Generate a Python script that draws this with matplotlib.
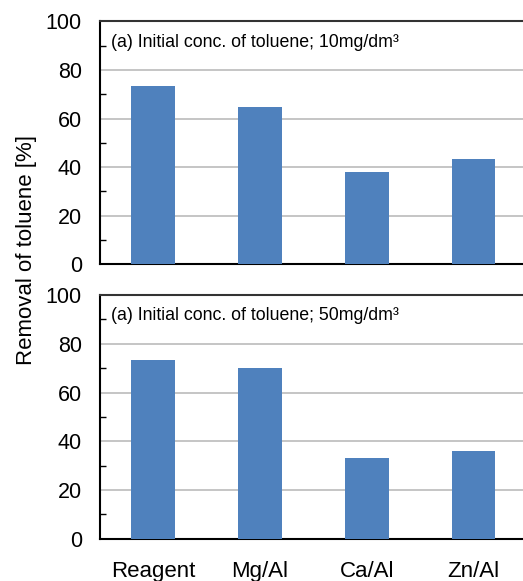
import matplotlib
matplotlib.use('Agg')
import matplotlib.pyplot as plt
from matplotlib.ticker import MultipleLocator

plt.rcParams['font.family'] = ['Liberation Sans', 'DejaVu Sans']

# Adsorbents and toluene removal (%) at two initial concentrations
samples = ['Reagent', 'Mg/Al', 'Ca/Al', 'Zn/Al']
removal_10 = [73.3, 64.6, 37.9, 43.2]
removal_50 = [73.3, 70.0, 33.1, 36.0]
panel_labels = ['(a) Initial conc. of toluene; 10mg/dm\u00b3',
                '(a) Initial conc. of toluene; 50mg/dm\u00b3']

bar_color = '#4F81BD'

fig = plt.figure(figsize=(5.23, 5.81), dpi=100)
ax_top = fig.add_axes([0.1912, 0.5456, 0.8164, 0.4174])
ax_bot = fig.add_axes([0.1912, 0.0728, 0.8164, 0.4194])

for ax, vals, note in [(ax_top, removal_10, panel_labels[0]),
                       (ax_bot, removal_50, panel_labels[1])]:
    x = range(len(samples))
    ax.bar(x, vals, width=0.41, color=bar_color, zorder=3)
    ax.set_xlim(-0.5, 3.5)
    ax.set_ylim(0, 100)
    ax.yaxis.set_major_locator(MultipleLocator(20))
    ax.yaxis.set_minor_locator(MultipleLocator(10))
    ax.grid(axis='y', which='major', color='#c0c0c0', linewidth=1.3, zorder=0)
    ax.tick_params(axis='y', which='major', length=0, pad=13, labelsize=15.5)
    ax.tick_params(axis='y', which='minor', direction='in', length=4.5, width=1)
    for side in ['left', 'bottom']:
        ax.spines[side].set_linewidth(1.5)
        ax.spines[side].set_color('black')
    ax.spines['top'].set_linewidth(1.5)
    ax.spines['top'].set_color('#333333')
    ax.spines['right'].set_visible(False)
    ax.text(0.025, 0.915, note, transform=ax.transAxes, fontsize=12.8,
            va='center', ha='left')
    ax.set_xticks(list(x))

ax_top.set_xticklabels([])
ax_top.tick_params(axis='x', length=0)
ax_bot.set_xticklabels(samples, fontsize=16)
ax_bot.tick_params(axis='x', length=0, pad=16)

fig.text(0.05, 1 - 250 / 581, 'Removal of toluene [%]', rotation=90,
         fontsize=16, ha='center', va='center')

fig.savefig('out.png', dpi=100)
